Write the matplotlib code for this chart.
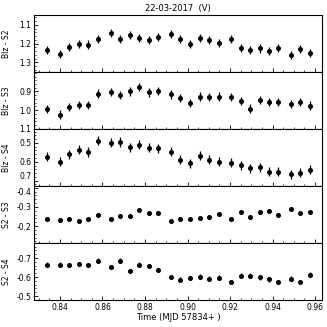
import numpy as np
import matplotlib
matplotlib.use("Agg")
import matplotlib.pyplot as plt
from matplotlib.ticker import MultipleLocator

# observation times (MJD 57834+)
t = [0.8340, 0.8400, 0.8444, 0.8490, 0.8534, 0.8580, 0.8638, 0.8684, 0.8728,
     0.8772, 0.8817, 0.8862, 0.8922, 0.8966, 0.9011, 0.9057, 0.9101, 0.9146,
     0.9205, 0.9250, 0.9294, 0.9339, 0.9383, 0.9427, 0.9487, 0.9531, 0.9577]

blz_s2 = [1.235, 1.255, 1.220, 1.200, 1.205, 1.175, 1.145, 1.175, 1.155,
          1.170, 1.180, 1.165, 1.150, 1.175, 1.200, 1.170, 1.180, 1.195,
          1.175, 1.222, 1.235, 1.226, 1.240, 1.225, 1.262, 1.229, 1.252]
blz_s3 = [0.993, 1.023, 0.982, 0.971, 0.971, 0.911, 0.904, 0.918, 0.900,
          0.877, 0.905, 0.898, 0.916, 0.936, 0.962, 0.927, 0.930, 0.927,
          0.930, 0.950, 0.991, 0.946, 0.957, 0.957, 0.966, 0.957, 0.975]
blz_s4 = [0.573, 0.599, 0.560, 0.537, 0.548, 0.488, 0.498, 0.495, 0.524,
          0.510, 0.525, 0.528, 0.547, 0.589, 0.607, 0.568, 0.589, 0.600,
          0.604, 0.618, 0.634, 0.630, 0.653, 0.653, 0.667, 0.657, 0.642]
s2_s3 = [-0.238, -0.232, -0.236, -0.229, -0.236, -0.259, -0.236, -0.252, -0.254,
         -0.286, -0.271, -0.266, -0.229, -0.238, -0.236, -0.241, -0.246, -0.264,
         -0.239, -0.273, -0.246, -0.273, -0.280, -0.259, -0.288, -0.268, -0.273]
s2_s4 = [-0.665, -0.665, -0.663, -0.668, -0.663, -0.686, -0.652, -0.686, -0.633,
         -0.666, -0.659, -0.638, -0.601, -0.587, -0.594, -0.603, -0.592, -0.597,
         -0.574, -0.608, -0.608, -0.599, -0.588, -0.574, -0.592, -0.574, -0.613]

series = [blz_s2, blz_s3, blz_s4, s2_s3, s2_s4]
errs = [0.022, 0.022, 0.024, 0.010, 0.012]
labels = ["Blz - S2", "Blz - S3", "Blz - S4", "S2 - S3", "S2 - S4"]
ylims = [(1.352, 1.047), (1.10, 0.796), (0.728, 0.426), (-0.112, -0.41), (-0.48, -0.78)]
yticks = [[1.1, 1.2, 1.3], [0.9, 1.0, 1.1], [0.5, 0.6, 0.7], [-0.4, -0.3, -0.2], [-0.7, -0.6, -0.5]]

fig, axes = plt.subplots(5, 1, sharex=True, figsize=(3.27, 3.27), dpi=100)
fig.subplots_adjust(left=0.104, right=0.985, top=0.954, bottom=0.083, hspace=0)

for ax, y, e, lab, yl, yt in zip(axes, series, errs, labels, ylims, yticks):
    ax.errorbar(t, y, yerr=e, fmt='o', color='k', ms=2.6, elinewidth=0.9, capsize=0)
    ax.set_ylim(yl)
    ax.set_yticks(yt)
    ax.set_yticklabels(["%.1f" % v for v in yt])
    ax.yaxis.set_minor_locator(MultipleLocator(0.02))
    ax.set_ylabel(lab, fontsize=5.5)
    ax.tick_params(direction='in', labelsize=5.5, length=3, width=0.6, pad=2)
    ax.tick_params(which='minor', direction='in', length=1.5, width=0.5)
    for s in ax.spines.values():
        s.set_linewidth(0.8)

# keep the 0.7 / -0.4 labels at the panel boundary from running into each other
axes[2].get_yticklabels()[-1].set_va('bottom')
axes[3].get_yticklabels()[0].set_va('top')

axes[-1].set_xlim(0.8278, 0.9633)
axes[-1].xaxis.set_major_locator(MultipleLocator(0.02))
axes[-1].xaxis.set_minor_locator(MultipleLocator(0.005))
axes[-1].xaxis.set_major_formatter(plt.FormatStrFormatter('%.2f'))
axes[-1].set_xlabel("Time (MJD 57834+ )", fontsize=6, labelpad=1)
axes[0].set_title("22-03-2017  (V)", fontsize=6, pad=3)
fig.align_ylabels(axes)

plt.savefig("out.png", dpi=100)
